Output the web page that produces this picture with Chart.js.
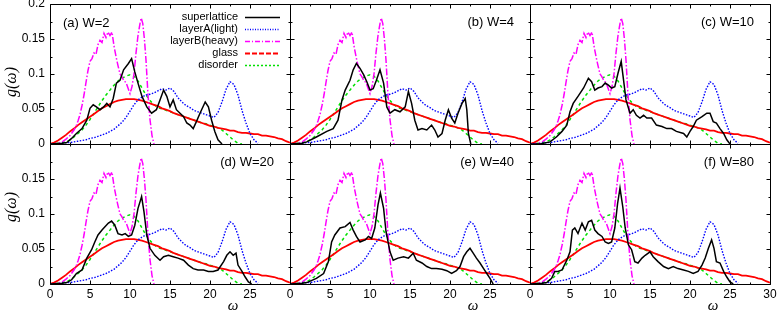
<!DOCTYPE html>
<html><head><meta charset="utf-8">
<script src="https://cdn.jsdelivr.net/npm/chart.js@4.4.1/dist/chart.umd.min.js"></script>
<style>
html,body{margin:0;padding:0;background:#fff;}
#wrap{position:relative;width:777px;height:312px;overflow:hidden;background:#fff;}
#wrap canvas{position:absolute;left:0;top:0;}
</style></head><body><div id="wrap"></div>
<script>
// ---------------- DATA ----------------
const seriesNames = ['superlattice', 'layerA(light)', 'layerB(heavy)', 'glass', 'disorder'];
const panelTitles = ['(a) W=2', '(b) W=4', '(c) W=10', '(d) W=20', '(e) W=40', '(f) W=80'];
const xTickValues = [0, 5, 10, 15, 20, 25, 30];
const xMinorTicks = [2.5, 7.5, 12.5, 17.5, 22.5, 27.5];
const yTickValues = [0, 0.05, 0.1, 0.15, 0.2];
const yMinorTicks = [0.025, 0.075, 0.125, 0.175];
const xTitle = 'ω';
const yTitle = 'g(ω)';

const omega05 = [0,0.5,1,1.5,2,2.5,3,3.5,4,4.5,5,5.5,6,6.5,7,7.5,8,8.5,9,9.5,10,10.5,11,11.5,12,12.5,13,13.5,14,14.5,15,15.5,16,16.5,17,17.5,18,18.5,19,19.5,20,20.5,21,21.5,22,22.5,23,23.5,24,24.5,25,25.5,26,26.5,27,27.5,28,28.5,29,29.5,30];

// glass (same in every panel), on omega05
const glassG = [0,0.002,0.005,0.009,0.013,0.018,0.022,0.027,0.031,0.035,0.039,0.043,0.047,0.051,0.054,0.057,0.06,0.062,0.063,0.064,0.064,0.064,0.063,0.062,0.06,0.058,0.056,0.054,0.051,0.049,0.047,0.044,0.042,0.04,0.038,0.036,0.034,0.032,0.03,0.028,0.026,0.025,0.023,0.022,0.021,0.019,0.019,0.017,0.016,0.016,0.015,0.014,0.014,0.012,0.012,0.011,0.01,0.008,0.007,0.004,0.002];
// layerA(light), on omega05 (0..26)
const layerAG = [0,0,0,0.001,0.002,0.002,0.003,0.004,0.005,0.006,0.008,0.009,0.011,0.013,0.015,0.018,0.021,0.026,0.031,0.038,0.047,0.056,0.063,0.067,0.07,0.071,0.073,0.076,0.079,0.077,0.08,0.075,0.066,0.06,0.055,0.052,0.048,0.046,0.044,0.042,0.04,0.038,0.045,0.06,0.078,0.089,0.085,0.07,0.048,0.03,0.015,0.006,0.001];
// disorder, on omega05 (0..24)
const disorderG = [0,0,0.001,0.002,0.003,0.006,0.01,0.015,0.02,0.027,0.035,0.044,0.053,0.062,0.07,0.077,0.084,0.09,0.094,0.097,0.099,0.097,0.09,0.08,0.07,0.062,0.056,0.052,0.05,0.048,0.046,0.044,0.042,0.04,0.038,0.036,0.034,0.032,0.03,0.029,0.027,0.025,0.023,0.02,0.015,0.01,0.005,0.001,0];
// layerB(heavy)
const layerBW = [0,1,1.5,2,2.5,3,3.25,3.5,3.75,4,4.25,4.5,4.75,5,5.25,5.5,5.75,6,6.25,6.5,6.75,7,7.25,7.5,7.75,8,8.25,8.5,8.75,9,9.25,9.5,9.75,10,10.25,10.5,10.75,11,11.25,11.4,11.6,11.8,12,12.25,12.5,12.75,13];
const layerBG = [0,0.001,0.003,0.007,0.012,0.02,0.025,0.033,0.042,0.055,0.07,0.088,0.105,0.118,0.122,0.13,0.128,0.142,0.148,0.145,0.158,0.152,0.16,0.155,0.16,0.14,0.125,0.112,0.1,0.096,0.09,0.088,0.08,0.072,0.082,0.1,0.13,0.155,0.172,0.18,0.172,0.15,0.12,0.07,0.035,0.012,0];

// superlattice, one per panel
const slA_w = [0,1.5,2.1,2.7,3.3,4,4.6,5,5.4,5.8,6.25,6.7,7.1,7.5,7.9,8.3,8.75,9.2,9.8,10.2,10.6,11,11.5,12.1,12.7,13.3,13.75,14.2,14.6,15,15.4,15.8,16.25,16.7,17.1,17.5,17.9,18.3,18.75,19.4,19.8,20.2,20.6,21,21.5];
const slA_g = [0,0.001,0.002,0.008,0.015,0.022,0.034,0.051,0.056,0.053,0.049,0.053,0.058,0.053,0.065,0.087,0.091,0.106,0.115,0.122,0.103,0.087,0.068,0.053,0.044,0.049,0.063,0.077,0.068,0.053,0.063,0.049,0.044,0.039,0.03,0.027,0.022,0.032,0.044,0.06,0.053,0.034,0.018,0.006,0];
const slB_w = [0,1.5,2.1,3.3,4.6,5.4,6,6.5,6.9,7.5,7.9,8.3,8.75,9.2,9.6,10,10.4,10.8,11.25,11.7,12.1,12.5,13.1,13.75,14.4,14.8,15.2,15.6,16,16.5,17.1,17.7,18.1,18.5,19,19.4,19.8,20.2,20.6,21,21.5,21.9,22.1,22.3,22.6];
const slB_g = [0,0.001,0.003,0.01,0.018,0.022,0.034,0.063,0.077,0.091,0.106,0.115,0.108,0.099,0.089,0.077,0.079,0.091,0.106,0.087,0.053,0.044,0.049,0.046,0.053,0.075,0.058,0.034,0.02,0.022,0.02,0.027,0.02,0.01,0.015,0.034,0.049,0.037,0.03,0.044,0.058,0.065,0.049,0.015,0];
const slC_w = [0,1.25,2.5,3.3,4,4.6,5,5.4,6,6.7,7.3,7.7,8.1,8.5,9,9.4,9.8,10.2,10.6,11,11.4,11.7,12,12.5,12.9,13.3,13.75,14.2,14.6,15.2,15.8,16.5,17.1,17.7,18.3,19.2,19.6,20,20.4,20.8,21.5,22.1,22.5,22.9,23.3,23.75,24.2,24.6,25];
const slC_g = [0,0,0.003,0.01,0.018,0.027,0.046,0.058,0.068,0.08,0.094,0.089,0.077,0.08,0.082,0.087,0.084,0.08,0.082,0.101,0.118,0.091,0.063,0.044,0.049,0.041,0.037,0.041,0.037,0.037,0.027,0.025,0.022,0.022,0.018,0.015,0.01,0.018,0.025,0.034,0.039,0.044,0.044,0.032,0.03,0.022,0.015,0.006,0];
const slD_w = [0,1.5,2.1,2.7,3.3,4,4.6,5.2,5.6,6,6.5,6.9,7.3,7.7,8.1,8.5,9,9.4,9.8,10.2,10.6,11,11.45,11.75,12.1,12.5,13.1,13.75,14.2,14.8,15.4,16,16.7,17.3,17.9,18.5,19.2,19.8,20.4,21,21.7,22.1,22.5,22.9,23.25,23.5,24,24.4,24.8,25.2];
const slD_g = [0,0.001,0.002,0.006,0.015,0.02,0.037,0.049,0.06,0.07,0.077,0.082,0.087,0.09,0.084,0.072,0.07,0.072,0.068,0.07,0.084,0.108,0.125,0.103,0.07,0.051,0.041,0.034,0.039,0.041,0.039,0.037,0.034,0.027,0.022,0.02,0.02,0.018,0.018,0.02,0.032,0.041,0.046,0.041,0.044,0.027,0.018,0.01,0.003,0];
const slE_w = [0,1.5,2.1,3.3,4.2,4.8,5.2,5.6,6.25,6.9,7.5,7.9,8.3,8.75,9.4,9.8,10.2,10.6,11,11.3,11.7,12,12.5,12.9,13.5,14.2,14.8,15.4,15.8,16.5,17.1,17.7,18.3,19,19.6,20.2,20.8,21.25,21.7,22.1,22.5,22.9,23.3,23.75,24.2,24.6,25,25.4];
const slE_g = [0,0.001,0.002,0.008,0.015,0.032,0.06,0.07,0.08,0.082,0.088,0.077,0.068,0.06,0.063,0.068,0.065,0.08,0.113,0.13,0.108,0.075,0.046,0.034,0.037,0.039,0.037,0.044,0.034,0.03,0.025,0.022,0.022,0.021,0.019,0.015,0.019,0.025,0.039,0.046,0.051,0.044,0.037,0.03,0.022,0.015,0.008,0];
const slF_w = [0,1.5,2.1,2.7,3.1,3.5,4,4.6,5,5.3,5.6,6,6.5,6.9,7.3,7.7,8.1,8.5,9,9.4,9.8,10.2,10.6,10.95,11.25,11.6,11.9,12.3,12.7,13.1,13.5,14,14.4,15,15.4,16,16.7,17.3,17.9,18.5,19.2,19.8,20.4,21,21.5,21.9,22.3,22.7,23,23.3,23.75,24.2,24.6,25,25.4];
const slF_g = [0,0.001,0.002,0.008,0.018,0.018,0.02,0.034,0.046,0.077,0.08,0.072,0.087,0.077,0.089,0.091,0.077,0.072,0.068,0.06,0.058,0.06,0.08,0.115,0.137,0.11,0.08,0.056,0.049,0.032,0.03,0.037,0.041,0.046,0.039,0.032,0.025,0.022,0.025,0.022,0.02,0.018,0.015,0.018,0.027,0.037,0.051,0.063,0.051,0.032,0.03,0.018,0.01,0.003,0];

const superW = [slA_w, slB_w, slC_w, slD_w, slE_w, slF_w];
const superG = [slA_g, slB_g, slC_g, slD_g, slE_g, slF_g];

// ---------------- STYLE / LAYOUT ----------------
const SANS = "'Liberation Sans', Arial, Helvetica, sans-serif";
const SERIF = "'Liberation Serif', 'DejaVu Serif', serif";
const styles = [
  {color:'#000000', width:1.5, dash:[],        legendDash:[]},
  {color:'#0000ff', width:1.4, dash:[1.5,1.5], legendDash:[1,1.5]},
  {color:'#ff00ff', width:1.5, dash:[7,2,1.5,2], legendDash:[5,2,1,2]},
  {color:'#ff0000', width:1.8, dash:[],        legendDash:[5,2]},
  {color:'#00e000', width:1.5, dash:[3,3],     legendDash:[2,2]}
];
const W = 777, H = 312;
const boxes = [
  {L:50, T:4,   R:290, B:144, row:0, col:0},
  {L:290,T:4,   R:530, B:144, row:0, col:1},
  {L:530,T:4,   R:770, B:144, row:0, col:2},
  {L:50, T:144, R:290, B:284, row:1, col:0},
  {L:290,T:144, R:530, B:284, row:1, col:1},
  {L:530,T:144, R:770, B:284, row:1, col:2}
];

function pts(xs, ys){ return ys.map((y,i)=>({x:xs[i], y:y})); }

const framePlugin = {
  id:'framePlugin',
  afterDraw(chart){
    const o = chart.options.plugins.framePlugin;
    const {ctx, chartArea:a} = chart;
    const xs = chart.scales.x, ys = chart.scales.y;
    const px = v => Math.round(v) + 0.5;
    ctx.save();
    ctx.strokeStyle = '#000'; ctx.lineWidth = 1; ctx.setLineDash([]);
    const top = px(a.top), bot = px(a.bottom), lf = px(a.left), rt = px(a.right);
    ctx.beginPath();
    const xt = (list, len) => list.forEach(v => { const p = px(xs.getPixelForValue(v));
      ctx.moveTo(p, bot); ctx.lineTo(p, bot - len); ctx.moveTo(p, top); ctx.lineTo(p, top + len); });
    const yt = (list, len) => list.forEach(v => { const p = px(ys.getPixelForValue(v));
      ctx.moveTo(lf, p); ctx.lineTo(lf + len, p); ctx.moveTo(rt, p); ctx.lineTo(rt - len, p); });
    xt(xTickValues, 4); xt(xMinorTicks, 2); yt(yTickValues, 4); yt(yMinorTicks, 2);
    ctx.moveTo(lf, top); ctx.lineTo(rt, top); ctx.lineTo(rt, bot); ctx.lineTo(lf, bot); ctx.closePath();
    ctx.stroke();

    ctx.fillStyle = '#000';
    ctx.font = '13px ' + SANS;
    ctx.textBaseline = 'middle';
    if (o.idx === 0) { ctx.textAlign = 'left'; ctx.fillText(o.title, a.left + 13, a.top + 19); }
    else { ctx.textAlign = 'right'; ctx.fillText(o.title, a.right - 16, a.top + 18); }

    if (o.col === 0) {
      ctx.save();
      ctx.font = 'italic 16px ' + SERIF;
      ctx.translate(12, o.row === 0 ? 82 : 207);
      ctx.rotate(-Math.PI/2);
      ctx.textAlign = 'center'; ctx.textBaseline = 'middle';
      ctx.fillText(yTitle, 0, 0);
      ctx.restore();
    }
    if (o.row === 1) {
      ctx.font = 'italic 15px ' + SERIF;
      ctx.textAlign = 'center'; ctx.textBaseline = 'middle';
      ctx.fillText(xTitle, a.left + 183, 306);
    }

    if (o.idx === 0) {
      ctx.font = '11px ' + SANS;
      chart.data.datasets.forEach((d, i) => {
        const y = 16.5 + 12.1 * i;
        ctx.fillStyle = '#000'; ctx.textAlign = 'right'; ctx.textBaseline = 'middle';
        ctx.fillText(d.label, 238, y);
        ctx.beginPath();
        ctx.strokeStyle = styles[i].color; ctx.lineWidth = styles[i].width;
        ctx.setLineDash(styles[i].legendDash);
        ctx.moveTo(245, Math.round(y) + 0.5); ctx.lineTo(280, Math.round(y) + 0.5);
        ctx.stroke();
      });
    }
    ctx.restore();
  }
};

const wrap = document.getElementById('wrap');
boxes.forEach((b, idx) => {
  const cv = document.createElement('canvas');
  cv.width = W; cv.height = H;
  cv.style.width = W + 'px'; cv.style.height = H + 'px';
  wrap.appendChild(cv);
  const seriesX = [superW[idx], omega05, layerBW, omega05, omega05];
  const seriesY = [superG[idx], layerAG, layerBG, glassG, disorderG];
  const datasets = seriesNames.map((name, i) => ({
    label: name,
    data: pts(seriesX[i], seriesY[i]),
    borderColor: styles[i].color,
    borderWidth: styles[i].width,
    borderDash: styles[i].dash,
    pointRadius: 0, tension: 0, fill: false
  }));
  const bottomRow = b.row === 1;
  const leftCol = b.col === 0;
  const yAxisW = leftCol ? b.L : 0;
  const xAxisH = bottomRow ? (H - b.B) : 0;
  new Chart(cv, {
    type: 'line',
    data: { datasets },
    plugins: [framePlugin],
    options: {
      responsive: false, animation: false, devicePixelRatio: 1,
      events: [],
      layout: { autoPadding: false, padding: { left: b.L - yAxisW, top: b.T, right: W - b.R, bottom: (H - b.B) - xAxisH } },
      plugins: {
        legend: { display: false }, tooltip: { enabled: false },
        framePlugin: { idx: idx, row: b.row, col: b.col, title: panelTitles[idx] }
      },
      scales: {
        x: {
          type: 'linear', min: 0, max: 30,
          grid: { display: false, drawTicks: false }, border: { display: false },
          afterFit(s) { s.height = xAxisH; s.paddingLeft = 0; s.paddingRight = 0; s.paddingTop = 0; s.paddingBottom = 0; },
          afterBuildTicks(s) { s.ticks = xTickValues.map(v => ({value: v})); },
          ticks: {
            display: bottomRow, padding: 3, color: '#000', maxRotation: 0, minRotation: 0, autoSkip: false,
            font: { size: 12, family: SANS },
            callback: v => (v === 30 && b.col !== 2) ? '' : String(v)
          }
        },
        y: {
          type: 'linear', min: 0, max: 0.2,
          grid: { display: false, drawTicks: false }, border: { display: false },
          afterFit(s) { s.width = yAxisW; s.paddingLeft = 0; s.paddingRight = 0; s.paddingTop = 0; s.paddingBottom = 0; },
          afterBuildTicks(s) { s.ticks = yTickValues.map(v => ({value: v})); },
          ticks: {
            display: leftCol, padding: 5, color: '#000', autoSkip: false,
            font: { size: 12, family: SANS },
            callback: v => (bottomRow && v >= 0.2) ? '' : String(Math.round(v * 1000) / 1000)
          }
        }
      }
    }
  });
});
</script></body></html>
